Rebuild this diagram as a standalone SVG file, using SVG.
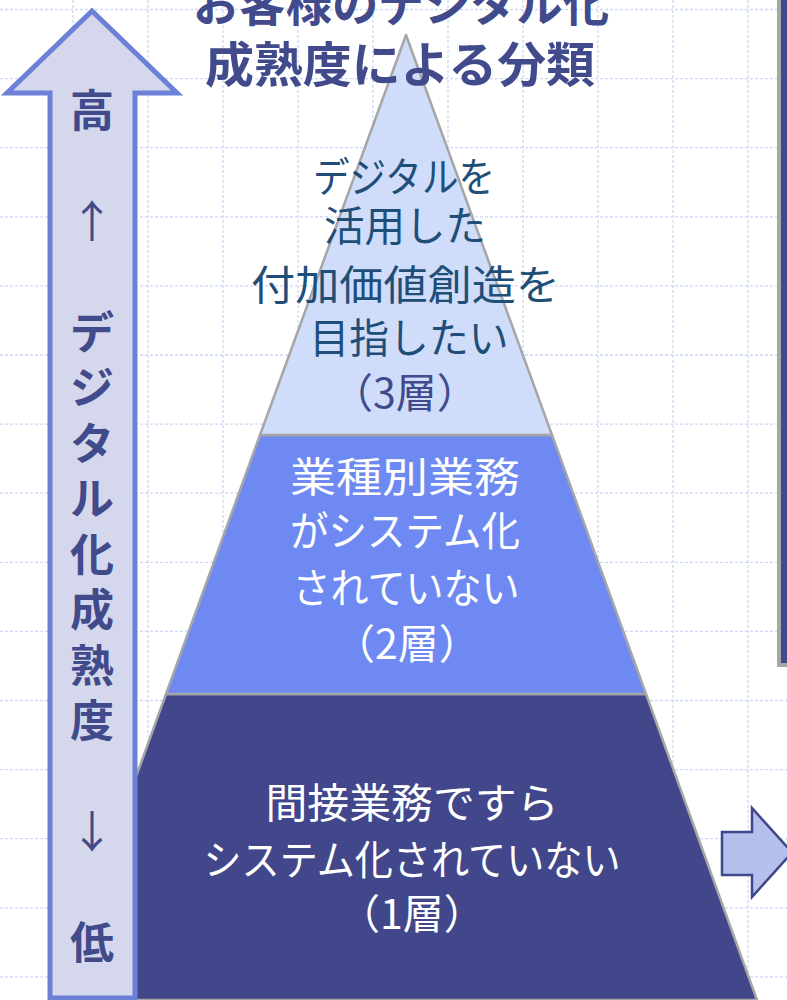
<svg xmlns="http://www.w3.org/2000/svg" width="787" height="1000" viewBox="0 0 787 1000">
  <style>
    .grid line { stroke: #ccd8f6; stroke-width: 1.3; stroke-dasharray: 3 2; }
    .jp { font-family: "Noto Sans CJK JP", "Noto Sans", sans-serif; text-anchor: middle; }
    .title { font-size: 48px; font-weight: 700; fill: #414a8b; }
    .side { font-size: 44px; font-weight: 700; fill: #414a8b; }
    .sidearrow { font-size: 44px; font-weight: 400; fill: #414a8b; }
    .lbl { font-size: 41px; font-weight: 400; }
    .layer { stroke: #a6a6a6; stroke-width: 2.5; stroke-linejoin: round; }
  </style>
  <rect width="787" height="1000" fill="#ffffff"/>
  <g id="grid" class="grid">
    <line x1="73" y1="0" x2="73" y2="1000"/>
    <line x1="148" y1="0" x2="148" y2="1000"/>
    <line x1="223" y1="0" x2="223" y2="1000"/>
    <line x1="298" y1="0" x2="298" y2="1000"/>
    <line x1="373" y1="0" x2="373" y2="1000"/>
    <line x1="448" y1="0" x2="448" y2="1000"/>
    <line x1="523" y1="0" x2="523" y2="1000"/>
    <line x1="598" y1="0" x2="598" y2="1000"/>
    <line x1="673" y1="0" x2="673" y2="1000"/>
    <line x1="748" y1="0" x2="748" y2="1000"/>
    <line x1="0" y1="9.5" x2="787" y2="9.5"/>
    <line x1="0" y1="78.6" x2="787" y2="78.6"/>
    <line x1="0" y1="147.7" x2="787" y2="147.7"/>
    <line x1="0" y1="216.8" x2="787" y2="216.8"/>
    <line x1="0" y1="285.9" x2="787" y2="285.9"/>
    <line x1="0" y1="355" x2="787" y2="355"/>
    <line x1="0" y1="424.1" x2="787" y2="424.1"/>
    <line x1="0" y1="493.2" x2="787" y2="493.2"/>
    <line x1="0" y1="562.3" x2="787" y2="562.3"/>
    <line x1="0" y1="631.4" x2="787" y2="631.4"/>
    <line x1="0" y1="700.5" x2="787" y2="700.5"/>
    <line x1="0" y1="769.6" x2="787" y2="769.6"/>
    <line x1="0" y1="838.7" x2="787" y2="838.7"/>
    <line x1="0" y1="907.8" x2="787" y2="907.8"/>
    <line x1="0" y1="976.9" x2="787" y2="976.9"/>
  </g>

  <g id="right-panel">
    <rect x="777" y="-10" width="30" height="677" fill="#a6a6a6"/>
    <rect x="781" y="-10" width="30" height="673" fill="#414a8b"/>
  </g>

  <g id="layer-1">
    <polygon class="layer" points="166,694 646,694 757,1000 55,1000" fill="#41478a"/>
    <text class="jp lbl" fill="#ffffff" x="412" y="817.6" textLength="293" lengthAdjust="spacingAndGlyphs">間接業務ですら</text>
    <text class="jp lbl" fill="#ffffff" x="412" y="874.6" textLength="417" lengthAdjust="spacingAndGlyphs">システム化されていない</text>
    <text class="jp lbl" fill="#ffffff" x="412" y="928.6">（1層）</text>
  </g>

  <g id="layer-2">
    <polygon class="layer" points="260,435 552,435 646,694 166,694" fill="#6e8af2"/>
    <text class="jp lbl" fill="#ffffff" x="405" y="491.6" textLength="230" lengthAdjust="spacingAndGlyphs">業種別業務</text>
    <text class="jp lbl" fill="#ffffff" x="405" y="545.6" textLength="230" lengthAdjust="spacingAndGlyphs">がシステム化</text>
    <text class="jp lbl" fill="#ffffff" x="406" y="602.6" textLength="227" lengthAdjust="spacingAndGlyphs">されていない</text>
    <text class="jp lbl" fill="#ffffff" x="407" y="658.6">（2層）</text>
  </g>

  <g id="layer-3">
    <polygon class="layer" points="406,35 552,435 260,435" fill="#cfdcfa"/>
    <text class="jp lbl" fill="#1f4e79" x="404" y="191.6" textLength="182" lengthAdjust="spacingAndGlyphs">デジタルを</text>
    <text class="jp lbl" fill="#1f4e79" x="405" y="240.6" textLength="162" lengthAdjust="spacingAndGlyphs">活用した</text>
    <text class="jp lbl" fill="#1f4e79" x="405.5" y="299.6" textLength="309" lengthAdjust="spacingAndGlyphs">付加価値創造を</text>
    <text class="jp lbl" fill="#1f4e79" x="409" y="352.6" textLength="199" lengthAdjust="spacingAndGlyphs">目指したい</text>
    <text class="jp lbl" fill="#414a8b" x="405" y="407.6">（3層）</text>
  </g>

  <g id="title">
    <text class="jp title" x="401" y="21" textLength="416" lengthAdjust="spacingAndGlyphs">お客様のデジタル化</text>
    <text class="jp title" x="400" y="82" textLength="390" lengthAdjust="spacingAndGlyphs">成熟度による分類</text>
  </g>

  <g id="maturity-arrow">
    <polygon points="92,11 177,93 135,93 135,998 50,998 50,93 7,93" fill="#d5d8ec" stroke="#6b80d6" stroke-width="5" stroke-linejoin="miter"/>
    <text class="jp side" x="92" y="126.7">高</text>
    <text class="jp sidearrow" x="92" y="237.7">↑</text>
    <text class="jp side" x="92" y="348.7">デ</text>
    <text class="jp side" x="92" y="404.2">ジ</text>
    <text class="jp side" x="92" y="459.7">タ</text>
    <text class="jp side" x="92" y="515.2">ル</text>
    <text class="jp side" x="92" y="570.7">化</text>
    <text class="jp side" x="92" y="626.2">成</text>
    <text class="jp side" x="92" y="681.7">熟</text>
    <text class="jp side" x="92" y="737.2">度</text>
    <text class="jp sidearrow" x="92" y="848.2">↓</text>
    <text class="jp side" x="92" y="959.2">低</text>
  </g>

  <g id="connectors">
    <polygon points="722,832 752,832 752,808 792,852.5 752,897 752,875 722,875" fill="#b6c0ec" stroke="#3f478b" stroke-width="2.5" stroke-linejoin="miter"/>
  </g>
</svg>
